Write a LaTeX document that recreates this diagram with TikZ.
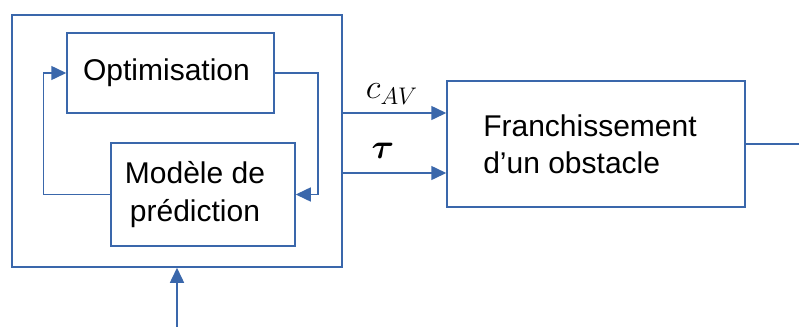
\documentclass[tikz,border=0pt]{standalone}
\usepackage{amsmath}
\usepackage{bm}
\usepackage{fontspec}
\setmainfont{Liberation Sans}
\usepackage{tikz}
\usepackage{xcolor}
\usetikzlibrary{arrows.meta,positioning,calc}
\definecolor{Bleu}{HTML}{3A67AB}

\begin{document}
\begin{tikzpicture}[x=0.5pt,y=-0.5pt,
    every node/.style={font=\fontsize{15}{17.5}\selectfont},
    bloc/.style={draw=Bleu,line width=0.75pt,inner sep=0pt},
    lien/.style={draw=Bleu,line width=0.75pt},
    fleche/.style={lien,-{Triangle[length=7.5pt,width=7pt]}},
    etiq/.style={font=\fontsize{18}{20}\selectfont}]
  \useasboundingbox (0,0) rectangle (799,327);
  % blocs
  \node[bloc,minimum width=165pt,minimum height=126pt] (ctrl) at (177,141) {};
  \node[bloc,minimum width=103.5pt,minimum height=40pt] (opt) at (170.5,73) {\hspace*{-4pt}Optimisation};
  \node[bloc,minimum width=92pt,minimum height=51.5pt,align=center] (pred) at (203,194.5) {\hspace*{-8pt}Modèle de\\[1.5pt]\hspace*{-8pt}prédiction};
  \node[bloc,minimum width=149pt,minimum height=63pt,align=left] (franch) at (596,144) {\hspace*{-6pt}Franchissement\\[1pt]\hspace*{-6pt}d’un obstacle};
  % entree / sortie
  \coordinate (entree) at (177,327);
  \coordinate (sortie) at (799,144);
  % boucle interne
  \draw[fleche] (pred.west) -- ++(-67,0) |- (opt.west);
  \draw[fleche] (opt.east) -- ++(43,0) |- (pred.east);
  % commandes
  \draw[fleche] ([yshift=14pt]ctrl.east) -- ([yshift=14pt]ctrl.east -| franch.west);
  \draw[fleche] ([yshift=-16pt]ctrl.east) -- ([yshift=-16pt]ctrl.east -| franch.west);
  \node[etiq] (cav) at (392,94) {$c_{AV}$};
  \node[etiq] (tau) at (383,151) {$\bm{\tau}$};
  \draw[fleche] (entree) -- (ctrl.south);
  \draw[lien] (franch.east) -- (sortie);
\end{tikzpicture}
\end{document}
